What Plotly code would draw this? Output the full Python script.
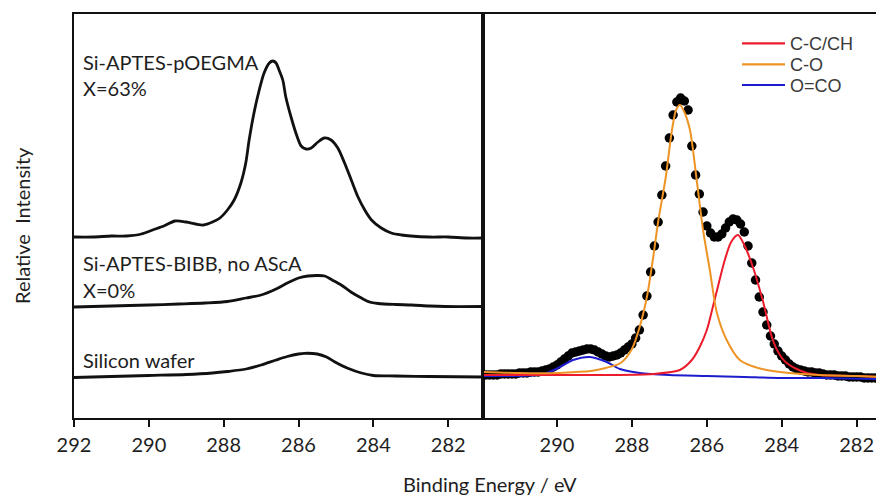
import plotly.graph_objects as go

# ---------------- Left panel: stacked C1s spectra ----------------
pOEGMA_E = [292.0, 291.5, 291.0, 290.6, 290.2, 289.9, 289.6, 289.3, 289.0, 288.75, 288.54, 288.3,
            288.1, 287.9, 287.72, 287.54, 287.41, 287.32, 287.19, 287.05, 286.92, 286.78, 286.69,
            286.6, 286.52, 286.42, 286.34, 286.2, 286.07, 285.93, 285.8, 285.66, 285.48, 285.31,
            285.13, 284.95, 284.77, 284.59, 284.41, 284.23, 284.05, 283.79, 283.52, 283.25, 283.0,
            282.5, 282.0, 281.5, 281.05]
pOEGMA_I = [181, 181, 182, 182, 184, 188, 192, 197, 196, 194, 193, 196,
            200, 208, 218, 235, 255, 278, 305, 328, 345, 355, 357,
            355, 348, 338, 321, 301, 285, 272, 269, 270, 276, 280,
            278, 270, 255, 238, 221, 208, 198, 190, 185, 183, 182,
            181, 181, 180, 180]

bibb_E = [292.0, 291.0, 290.0, 289.2, 288.5, 287.9, 287.4, 287.0, 286.6, 286.3, 286.0, 285.75,
          285.5, 285.3, 285.1, 284.86, 284.6, 284.32, 284.1, 283.87, 283.4, 282.98, 282.5,
          282.09, 281.05]
bibb_I = [111, 112, 113, 114, 115, 116.5, 120, 123, 129, 135, 140, 142,
          142.5, 142, 138, 133, 126, 120, 116, 114.5, 113.5, 113, 112,
          111.5, 111.5]

wafer_E = [292.0, 291.0, 290.0, 289.0, 288.3, 287.9, 287.4, 287.0, 286.6, 286.3, 286.0, 285.84,
           285.5, 285.25, 285.04, 284.7, 284.32, 284.0, 283.4, 282.5, 281.05]
wafer_I = [40.5, 41.5, 42.5, 43.5, 45, 46.5, 49, 53, 58, 61.5, 64, 64.7,
           64, 61, 56.3, 50, 45, 42.5, 42, 41.5, 41]

left_labels = ["Si-APTES-pOEGMA", "X=63%", "Si-APTES-BIBB, no AScA", "X=0%", "Silicon wafer"]

# ---------------- Right panel: peak fit of pOEGMA spectrum ----------------
data_E = [291.9, 291.8, 291.7, 291.6, 291.5, 291.4, 291.3, 291.2, 291.1, 291.0,
          290.9, 290.8, 290.7, 290.6, 290.5, 290.4, 290.3, 290.2, 290.1, 290.0,
          289.9, 289.8, 289.7, 289.6, 289.5, 289.4, 289.3, 289.2, 289.1, 289.0,
          288.9, 288.8, 288.7, 288.6, 288.5, 288.4, 288.3, 288.2, 288.1, 288.0,
          287.9, 287.8, 287.7, 287.6, 287.5, 287.4, 287.3, 287.2, 287.1, 287.0,
          286.9, 286.8, 286.7, 286.6, 286.5, 286.4, 286.3, 286.2, 286.1, 286.0,
          285.9, 285.8, 285.7, 285.6, 285.5, 285.4, 285.3, 285.2, 285.1, 285.0,
          284.9, 284.8, 284.7, 284.6, 284.5, 284.4, 284.3, 284.2, 284.1, 284.0,
          283.9, 283.8, 283.7, 283.6, 283.5, 283.4, 283.3, 283.2, 283.1, 283.0,
          282.9, 282.8, 282.7, 282.6, 282.5, 282.4, 282.3, 282.2, 282.1, 282.0,
          281.9, 281.8, 281.7, 281.6, 281.5, 281.4, 281.3]
data_I = [43, 43, 43, 43, 44, 44, 44, 44, 44, 45,
          45, 45, 46, 46, 46, 47, 48, 49, 51, 53,
          56, 59, 62, 65, 66, 67, 68, 69, 69, 68,
          66, 64, 62, 61, 62, 63, 65, 68, 71, 74,
          80, 88, 103, 122, 146, 172, 196, 223, 252, 280,
          303, 316, 320, 317, 308, 272, 243, 224, 206, 192,
          185, 181, 181, 184, 190, 196, 199, 198, 194, 186,
          172, 155, 138, 121, 106, 93, 82, 74, 67, 62,
          58, 54, 51, 49, 48, 47, 46, 46, 45, 45,
          44, 43, 43, 43, 42, 42, 42, 41, 41, 41,
          41, 40, 40, 40, 40, 39, 39]

cc_E = [291.95, 290.0, 288.5, 287.44, 286.72, 286.4, 286.19, 286.0, 285.84, 285.68, 285.52,
        285.35, 285.17, 285.0, 284.77, 284.51, 284.24, 284.05, 283.87, 283.6, 283.33, 283.0,
        282.0, 281.28]
cc_I = [43, 43, 43, 44, 48, 58, 71, 88, 111, 135, 158,
        176, 183, 173, 151, 118, 78, 63, 55, 49, 45, 43,
        42, 41]

co_E = [291.95, 291.0, 290.0, 289.5, 289.1, 288.7, 288.3, 288.0, 287.8, 287.6, 287.45, 287.3,
        287.1, 286.93, 286.82, 286.72, 286.6, 286.45, 286.27, 286.1, 285.92, 285.73, 285.47,
        285.12, 284.8, 284.4, 283.8, 283.0, 282.0, 281.28]
co_I = [46, 45, 45, 46, 47, 50, 55, 69, 90, 121, 156, 196,
        240, 288, 308, 313, 306, 288, 238, 188, 148, 105, 78,
        58, 52, 48, 45, 43, 42, 41]

oco_E = [291.95, 291.0, 290.5, 290.27, 289.92, 289.57, 289.12, 288.67, 288.32, 287.79, 287.0,
         286.0, 285.0, 284.0, 283.0, 281.28]
oco_I = [42, 42, 43, 45, 51, 58, 61, 56, 49, 45, 43,
         42, 41, 40, 40, 39]

fit_names = ["C-C/CH", "C-O", "O=CO"]
fit_colors = ["#ec1c2c", "#ee9426", "#1c1ccc"]

# ---------------- Figure ----------------
# The page body adds an 8 px offset, so the figure is drawn 8 px smaller.
W, H = 876, 489
L, R, T, B = 66, 0, 6, 79
PW, PH = W - L - R, H - T - B


def px(xr):   # reference-image x pixel -> paper x
    return (xr - 8 - L) / PW


def py(yr):   # reference-image y pixel -> paper y
    return (H - B - (yr - 8)) / PH


split = px(483)

fig = go.Figure()
ink = "#111111"
for E, I in [(pOEGMA_E, pOEGMA_I), (bibb_E, bibb_I), (wafer_E, wafer_I)]:
    fig.add_trace(go.Scatter(x=E, y=I, mode="lines", xaxis="x", yaxis="y",
                             line=dict(color=ink, width=2.8, shape="spline", smoothing=0.8),
                             showlegend=False, hoverinfo="skip"))

fig.add_trace(go.Scatter(x=data_E, y=data_I, mode="markers", xaxis="x2", yaxis="y2",
                         marker=dict(color="#000000", size=9.5), showlegend=False))
for E, I, name, col in [(oco_E, oco_I, fit_names[2], fit_colors[2]),
                        (cc_E, cc_I, fit_names[0], fit_colors[0]),
                        (co_E, co_I, fit_names[1], fit_colors[1])]:
    fig.add_trace(go.Scatter(x=E, y=I, mode="lines", xaxis="x2", yaxis="y2", name=name,
                             showlegend=False,
                             line=dict(color=col, width=2, shape="spline", smoothing=0.8)))

font_main = "Lato, Open Sans, sans-serif"
tickfont = dict(family=font_main, size=20, color="#1e1e1e")
axis_common = dict(showgrid=False, zeroline=False, showline=True, linecolor=ink, linewidth=2,
                   ticks="outside", ticklen=7, tickwidth=2, tickcolor=ink, tickfont=tickfont,
                   ticklabelstandoff=1)

fig.update_layout(
    width=W, height=H,
    margin=dict(l=L, r=R, t=T, b=B, pad=0),
    paper_bgcolor="white", plot_bgcolor="white",
    xaxis=dict(domain=[0, split], range=[292, 281.07], tickvals=[292, 290, 288, 286, 284, 282],
               mirror=True, **axis_common),
    yaxis=dict(domain=[0, 1], range=[0, 404], showticklabels=False, mirror=True,
               showgrid=False, zeroline=False, showline=True, linecolor=ink, linewidth=2, ticks=""),
    xaxis2=dict(domain=[split, 1], range=[291.975, 281.27], tickvals=[290, 288, 286, 284, 282],
                mirror=True, **axis_common),
    yaxis2=dict(domain=[0, 1], range=[0, 404], anchor="x2", showticklabels=False,
                showgrid=False, zeroline=False, showline=True, linecolor=ink, linewidth=2, ticks=""),
    showlegend=False,
)

# legend for the fitted components (drawn in the upper right of the right panel)
legend_rows = [43.3, 64.3, 85.0]
for name, col, yr in zip(fit_names, fit_colors, legend_rows):
    fig.add_shape(type="line", xref="paper", yref="paper", x0=px(742), x1=px(785),
                  y0=py(yr), y1=py(yr), line=dict(color=col, width=2.2))
    fig.add_annotation(text=name, xref="paper", yref="paper", x=px(788), y=py(yr + 0.5),
                       xanchor="left", yanchor="middle", showarrow=False,
                       font=dict(family="Liberation Sans, Arial, sans-serif", size=18,
                                 color="#3a3a3a"))

label_y = [62, 88, 263, 290, 360]
for txt, yr in zip(left_labels, label_y):
    fig.add_annotation(text=txt, xref="paper", yref="paper", x=px(81),
                       y=py(yr), xanchor="left", yanchor="middle", showarrow=False,
                       font=dict(family=font_main, size=20, color="#1e1e1e"))

fig.add_annotation(text="Binding Energy / eV", xref="paper", yref="paper",
                   x=px(490), y=py(484), xanchor="center",
                   yanchor="middle", showarrow=False,
                   font=dict(family=font_main, size=20, color="#1e1e1e"))
fig.add_annotation(text="Relative\u00a0\u00a0Intensity", xref="paper", yref="paper",
                   x=px(22), y=py(226), xanchor="center",
                   yanchor="middle", textangle=-90, showarrow=False,
                   font=dict(family=font_main, size=20, color="#1e1e1e"))

fig.write_html("out.html")
